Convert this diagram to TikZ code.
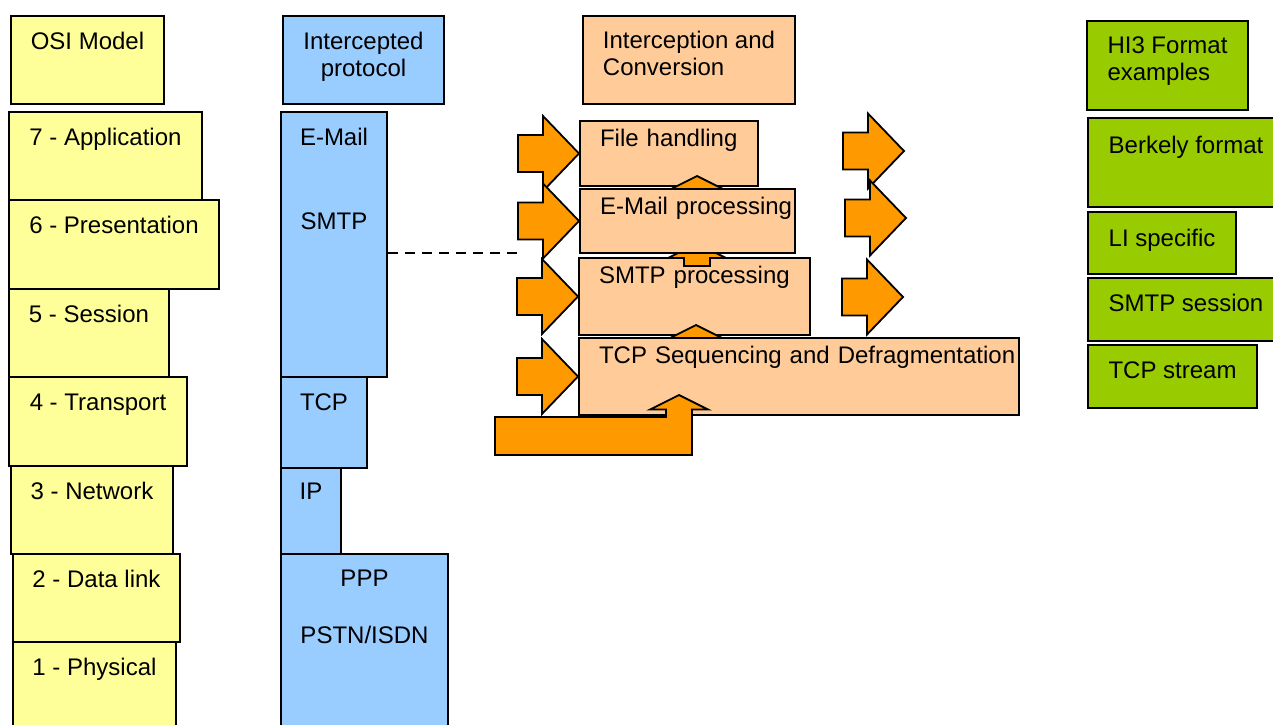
\documentclass[tikz,border=0pt]{standalone}
\usepackage{fontspec}
\setmainfont{Liberation Sans}
\definecolor{osiyellow}{HTML}{FFFF99}
\definecolor{protoblue}{HTML}{99CCFF}
\definecolor{convpeach}{HTML}{FFCC99}
\definecolor{arroworange}{HTML}{FF9900}
\definecolor{higreen}{HTML}{99CC00}

\begin{document}
\begin{tikzpicture}[
    x=1pt, y=-1pt,
    box/.style={
        draw=black, line width=2pt, anchor=north west, inner xsep=0pt, inner ysep=0pt,
        text height=33pt, font=\fontsize{24}{27.6}\selectfont
      },
    osinode/.style={box, fill=osiyellow},
    protonode/.style={box, fill=protoblue},
    convnode/.style={box, fill=convpeach},
    procnode/.style={box, fill=convpeach, align=left, inner xsep=20pt, text height=25pt},
    hinode/.style={box, fill=higreen},
    blockarrow/.style={draw=black, line width=1.8pt, fill=arroworange, line join=miter},
    rarrow/.pic={
        \draw[blockarrow] (0,0) -- (-36,-37.5) -- (-36,-18.5) -- (-61,-18.5)
          -- (-61,18.5) -- (-36,18.5) -- (-36,37.5) -- cycle;
      },
    uarrow/.pic={
        \draw[blockarrow] (0,0) -- (29,14.5) -- (13,14.5) -- (13,#1)
          -- (-13,#1) -- (-13,14.5) -- (-29,14.5) -- cycle;
      },
  ]
  \useasboundingbox (0,0) rectangle (1273,724);
  \clip (0,0) rectangle (1273,724);

  % OSI layers
  \node[osinode, minimum width=153pt, text depth=55pt] (osi) at (10,15) {OSI Model};
  \node[osinode, minimum width=193pt, text depth=55pt] (app) at (8,111) {7 - Application};
  \node[osinode, minimum width=210pt, text depth=56pt] (pres) at (8,199) {6 - Presentation};
  \node[osinode, minimum width=160pt, text depth=55pt] (sess) at (8,288) {5 - Session};
  \node[osinode, minimum width=178pt, text depth=56pt] (trans) at (8,376) {4 - Transport};
  \node[osinode, minimum width=162pt, text depth=55pt] (net) at (10,465) {3 - Network};
  \node[osinode, minimum width=167pt, text depth=55pt] (dlink) at (12,553) {2 - Data link};
  \node[osinode, minimum width=163pt, text depth=67pt] (phys) at (12,641) {1 - Physical};

  % intercepted protocol stack
  \node[protonode, minimum width=161pt, text depth=55pt] (proto) at (282,15)
    {\begin{tabular}[t]{@{}c@{}}Intercepted\\protocol\end{tabular}};
  \node[protonode, minimum width=106pt, text depth=232pt] (email) at (280,111)
    {\begin{tabular}[t]{@{}c@{}}E-Mail\\[56.4pt]SMTP\end{tabular}};
  \node[protonode, minimum width=86pt, text depth=58pt] (tcp) at (280,376) {TCP};
  \node[protonode, minimum width=60pt, text height=31pt, text depth=55pt] (ip) at (280,467) {IP};
  \node[protonode, minimum width=167pt, text height=32pt, text depth=148pt] (ppp) at (280,553)
    {\begin{tabular}[t]{@{}c@{}}PPP\\[29.4pt]PSTN/ISDN\end{tabular}};

  % interception and conversion
  \node[convnode, minimum width=212pt, text height=32pt, text depth=56pt] (conv) at (582,15)
    {\begin{tabular}[t]{@{}l@{}}Interception and\\Conversion\end{tabular}};
  \node[procnode, text width=138pt, text depth=40pt] (fh) at (579,120) {File handling};
  \node[procnode, text width=191pt, text depth=52pt] (smtpp) at (578,257) {SMTP processing};

  \pic at (697,176) {uarrow=40};
  \pic at (697,243.5) {uarrow=22.5};
  \pic at (696,325) {uarrow=30};

  \node[procnode, text width=175pt, text depth=39pt] (emp) at (579,188) {\mbox{E-Mail processing}};
  \node[procnode, text width=400pt, text depth=52pt] (tcpseq) at (578,337)
    {\mbox{TCP Sequencing and Defragmentation}};

  \draw[blockarrow] (679,395) -- (708,409.5) -- (692,409.5) -- (692,455) -- (495,455)
    -- (495,417) -- (666,417) -- (666,409.5) -- (650,409.5) -- cycle;

  \pic at (fh.west) {rarrow};
  \pic at (emp.west) {rarrow};
  \pic at (smtpp.west) {rarrow};
  \pic at (tcpseq.west) {rarrow};

  \pic at (904,151) {rarrow};
  \pic at (906,218) {rarrow};
  \pic at (903,297) {rarrow};

  % HI3 formats
  \node[hinode, minimum width=161pt, text height=32pt, text depth=57pt] (hi3) at (1086,20)
    {\begin{tabular}[t]{@{}l@{}}HI3 Format\\examples\end{tabular}};
  \node[hinode, minimum width=196pt, text height=35pt, text depth=54pt] (berk) at (1087,117) {Berkely format};
  \node[hinode, minimum width=148pt, text height=34pt, text depth=28pt] (lis) at (1087,211) {LI specific};
  \node[hinode, minimum width=196pt, text depth=30pt] (smtps) at (1087,277) {SMTP session};
  \node[hinode, minimum width=169pt, text depth=30pt] (tcps) at (1087,344) {TCP stream};

  \coordinate (dashend) at (519,253);
  \draw[line width=1.3pt, dash pattern=on 10pt off 7pt] (email.east |- dashend) -- (dashend);
\end{tikzpicture}
\end{document}
